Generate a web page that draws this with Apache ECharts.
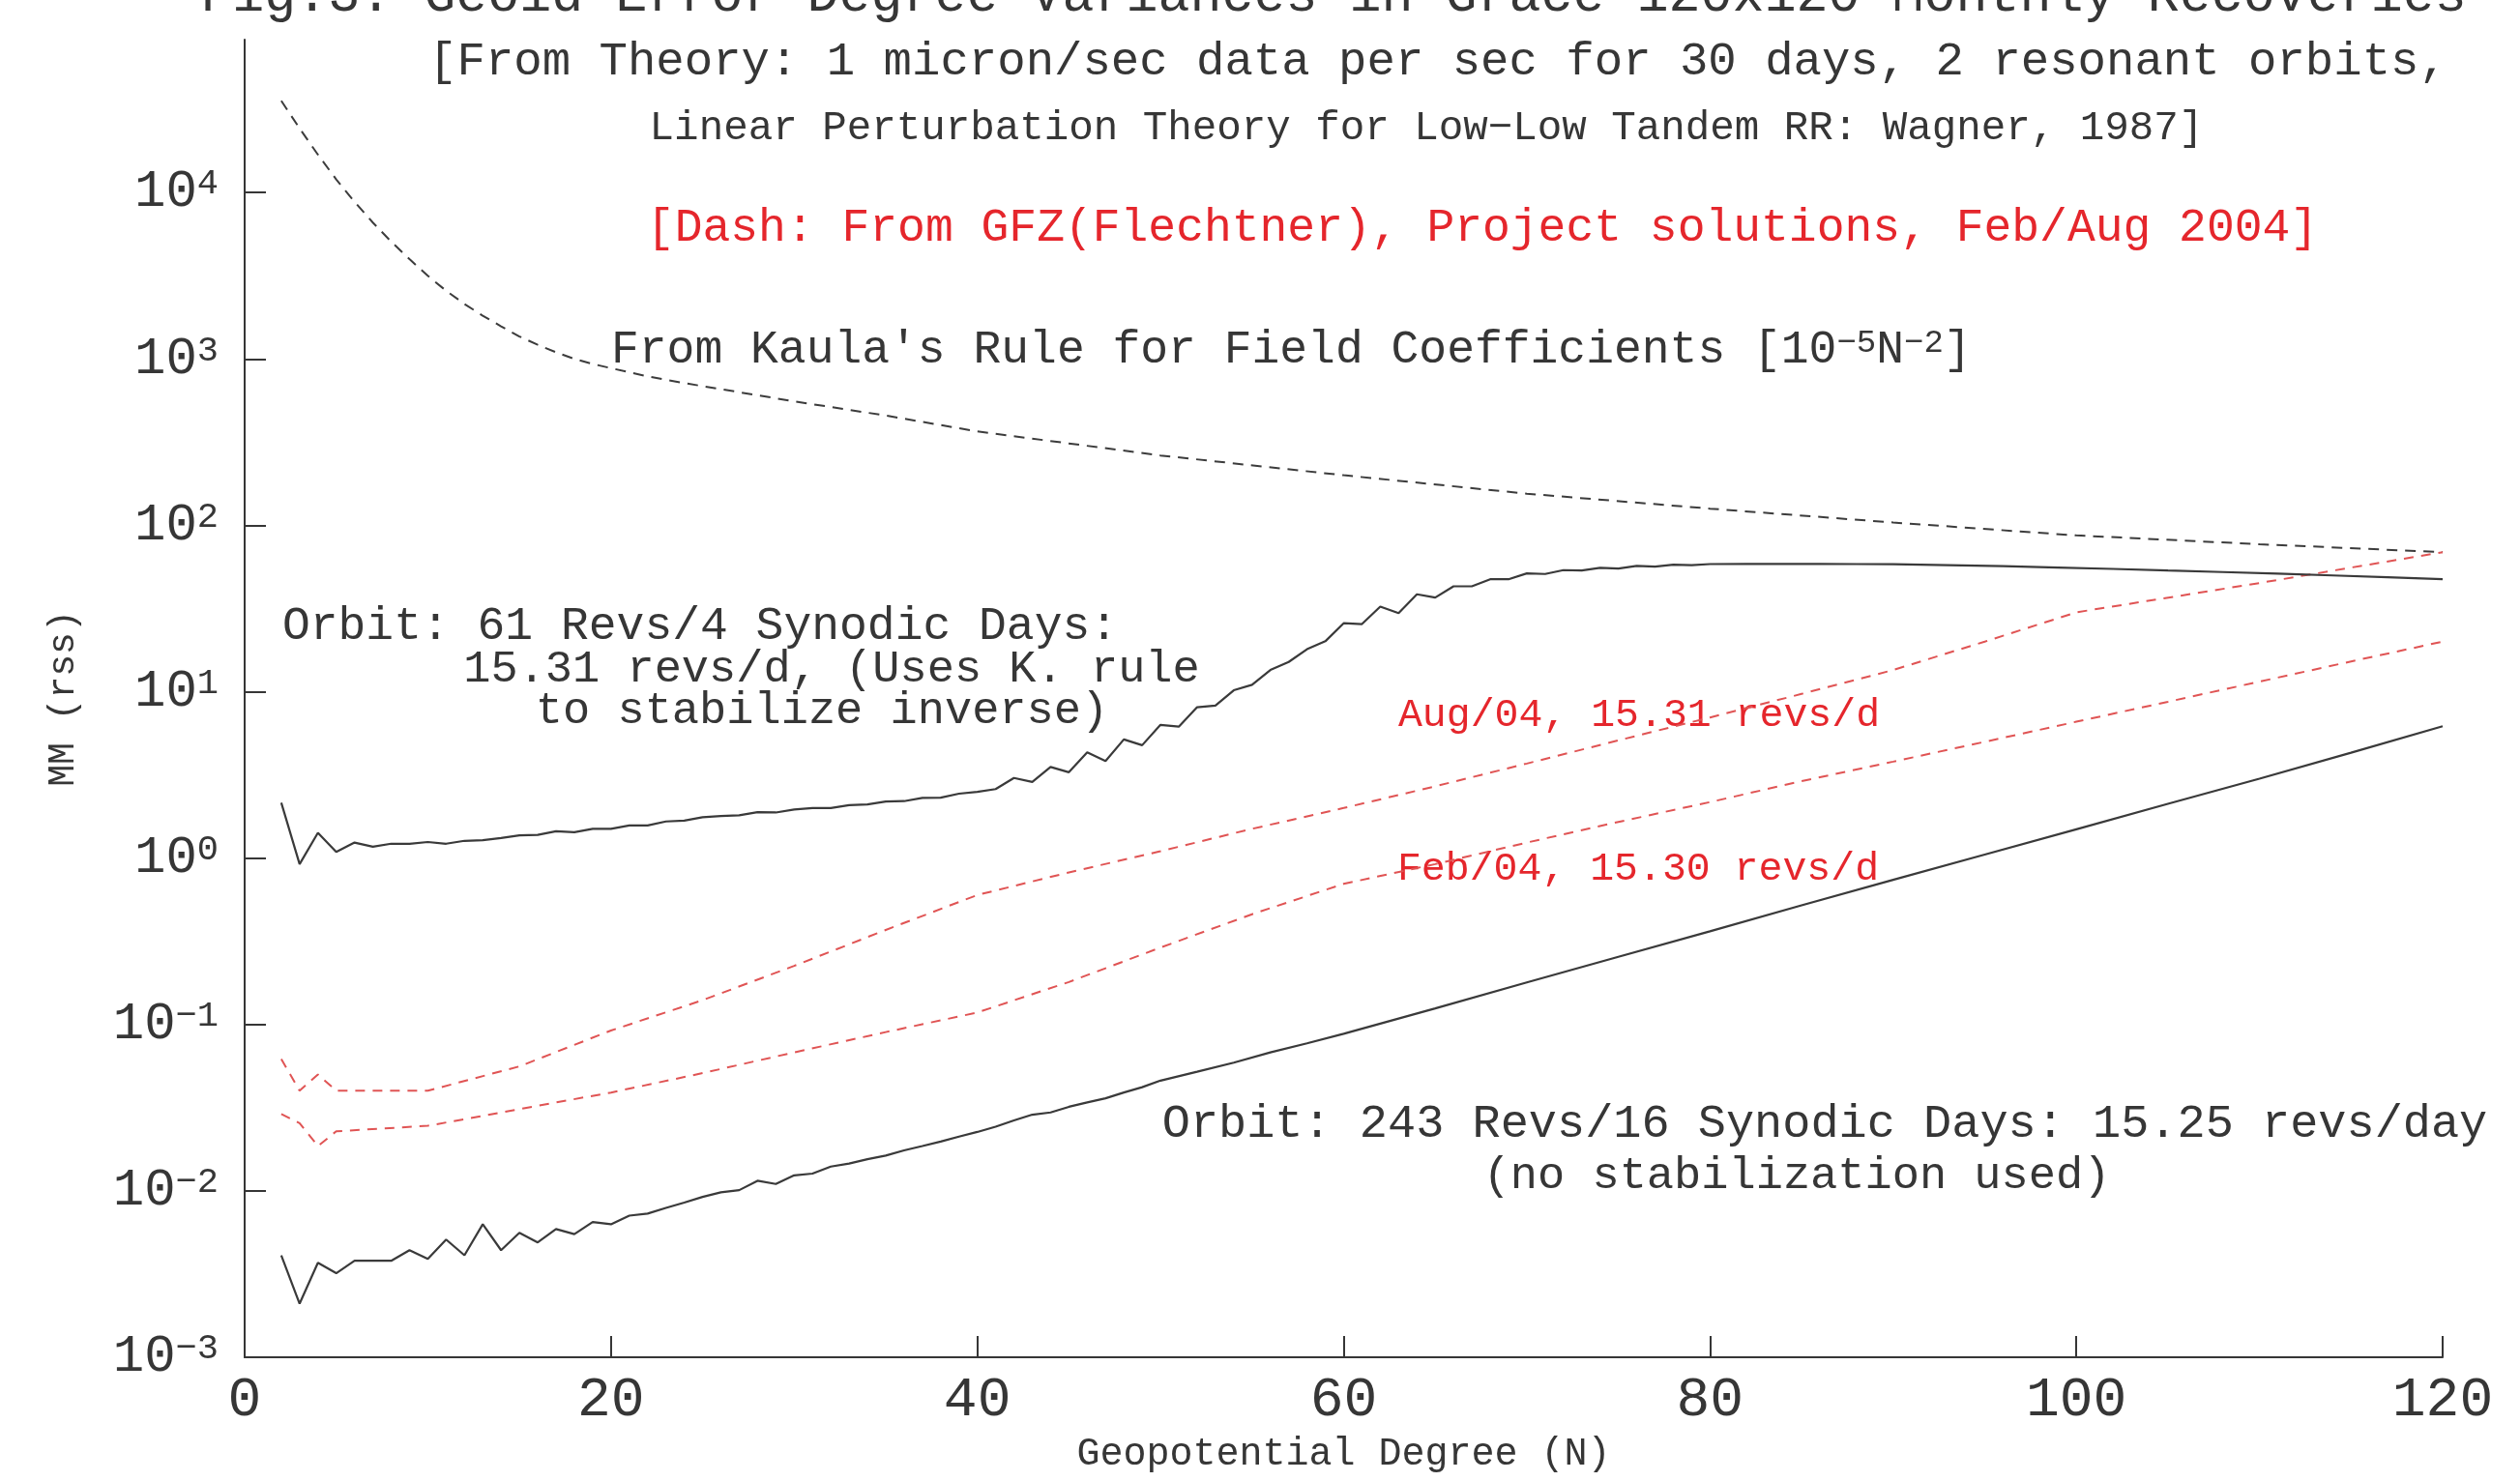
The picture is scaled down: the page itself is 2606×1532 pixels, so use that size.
<!DOCTYPE html>
<html>
<head>
<meta charset="utf-8">
<script src="https://cdn.jsdelivr.net/npm/echarts@6/dist/echarts.min.js"></script>
<style>
html,body{margin:0;padding:0;background:#fff;}
#c{width:2606px;height:1532px;}
</style>
</head>
<body>
<div id="c"></div>
<script>
// ---------------- data ----------------
const xTickInterval = 20;
const yTickValues = [0.001, 0.01, 0.1, 1, 10, 100, 1000, 10000];
const yTickExponents = ['−3', '−2', '−1', '0', '1', '2', '3', '4'];

// Kaula's rule (black dashed)
const kaulaDeg = [2,3,4,5,6,7,8,9,10,11,12,13,14,15,16,17,18,19,20,22,24,27,30,35,40,50,60,70,80,90,100,110,120];
const kaulaVal = [35600,24300,16900,12000,8800,6600,5070,3980,3160,2570,2140,1820,1570,1365,1216,1096,1000,933,880,785,716,631,556,457,367,263,200,155,126,104,87,77,69];

// Orbit 61 revs / 4 days (black solid, upper)
const orbit61Deg = [2,3,4,5,6,7,8,9,10,11,12,13,14,15,16,17,18,19,20,21,22,23,24,25,26,27,28,29,30,31,32,33,34,35,36,37,38,39,40,41,42,43,44,45,46,47,48,49,50,51,52,53,54,55,56,57,58,59,60,61,62,63,64,65,66,67,68,69,70,71,72,73,74,75,76,77,78,79,80,82,84,86,88,90,93,96,99,102,105,108,111,114,117,120];
const orbit61Val = [2.15,0.92,1.42,1.09,1.24,1.17,1.22,1.22,1.25,1.22,1.27,1.28,1.32,1.37,1.38,1.45,1.43,1.50,1.50,1.57,1.57,1.66,1.68,1.76,1.79,1.81,1.89,1.88,1.96,2.00,2.00,2.08,2.10,2.19,2.20,2.30,2.31,2.44,2.50,2.60,3.03,2.87,3.53,3.28,4.32,3.83,5.17,4.77,6.32,6.17,8.07,8.26,10.2,11.0,13.5,15.1,18.0,20.1,25.8,25.5,32.5,29.7,38.5,36.8,43.0,43.0,47.4,47.4,51.4,51.0,53.8,53.5,55.5,55.0,57.0,56.5,58.0,57.6,58.5,58.6,58.6,58.6,58.5,58.4,57.6,56.8,55.8,54.7,53.5,52.4,51.3,50.0,48.7,47.4];

// Orbit 243 revs / 16 days (black solid, lower)
const orbit243Deg = [2,3,4,5,6,7,8,9,10,11,12,13,14,15,16,17,18,19,20,21,22,23,24,25,26,27,28,29,30,31,32,33,34,35,36,37,38,39,40,41,42,43,44,45,46,47,48,49,50,52,54,56,58,60,65,70,75,80,85,90,95,100,105,110,115,120];
const orbit243Val = [0.0041,0.0021,0.0037,0.0032,0.0038,0.0038,0.0038,0.0044,0.0039,0.0051,0.0041,0.0063,0.0044,0.0056,0.0049,0.0059,0.0055,0.0065,0.0063,0.0071,0.0073,0.0079,0.0085,0.0092,0.0098,0.0101,0.0115,0.0110,0.0124,0.0127,0.0140,0.0146,0.0155,0.0163,0.0175,0.0186,0.0198,0.0212,0.0226,0.0243,0.0265,0.0287,0.0296,0.0320,0.0340,0.0360,0.0390,0.0420,0.0460,0.052,0.059,0.068,0.077,0.088,0.125,0.179,0.255,0.363,0.52,0.74,1.05,1.49,2.12,3.0,4.3,6.2];

// GFZ Aug/04 (red dashed, upper)
const augDeg = [2,3,4,5,10,15,20,25,30,35,40,45,50,55,60,65,70,75,80,85,90,95,100,110,120];
const augVal = [0.062,0.040,0.050,0.040,0.040,0.056,0.092,0.14,0.225,0.37,0.60,0.82,1.1,1.5,2.0,2.7,3.7,5.1,7.0,9.7,13.5,20,30,45,69];

// GFZ Feb/04 (red dashed, lower)
const febDeg = [2,3,4,5,10,15,20,25,30,35,40,45,50,55,60,65,70,75,80,85,90,95,100,105,110,115,120];
const febVal = [0.029,0.0255,0.0186,0.0228,0.0246,0.031,0.039,0.051,0.068,0.09,0.118,0.18,0.29,0.46,0.70,0.92,1.24,1.65,2.17,2.9,3.8,5.0,6.6,8.7,11.5,15.2,20];

// ---------------- chart ----------------
const zip = (a, b) => a.map((d, i) => [d, b[i]]);
const FONT = "'Liberation Mono', 'DejaVu Sans Mono', monospace";
const INK = '#363636';
const RED = '#e5262c';
const RED_LINE = '#e05454';

const chart = echarts.init(document.getElementById('c'), null, {renderer: 'canvas'});

function txt(text, x, y, size, color, align) {
  return {
    type: 'text', x: x, y: y, silent: true,
    style: {text: text, fontSize: size, fontFamily: FONT, fill: color,
            align: align || 'center', verticalAlign: 'middle'}
  };
}

const option = {
  backgroundColor: '#ffffff',
  animation: false,
  grid: {left: 253, right: 80, top: 41, bottom: 128, outerBoundsMode: 'none', containLabel: false},
  xAxis: {
    type: 'value', min: 0, max: 120, interval: xTickInterval,
    axisLine: {show: true, onZero: false, lineStyle: {color: INK, width: 2}},
    axisTick: {show: true, inside: true, length: 22, lineStyle: {color: INK, width: 2}},
    axisLabel: {show: true, margin: 16, fontSize: 58, fontFamily: FONT, color: INK},
    splitLine: {show: false},
    name: 'Geopotential Degree (N)', nameLocation: 'middle', nameGap: 80,
    nameTextStyle: {fontSize: 40, fontFamily: FONT, color: INK}
  },
  yAxis: {
    type: 'log', logBase: 10, min: 0.001, max: 83000,
    axisLine: {show: true, onZero: false, lineStyle: {color: INK, width: 2}},
    axisTick: {show: true, inside: true, length: 22, customValues: yTickValues, lineStyle: {color: INK, width: 2}},
    axisLabel: {
      show: true, margin: 27, customValues: yTickValues,
      formatter: function (v) {
        let idx = 0, best = 1e9;
        yTickValues.forEach((t, i) => { const d = Math.abs(Math.log10(t) - Math.log10(v)); if (d < best) { best = d; idx = i; } });
        return '{b|10}{s|' + yTickExponents[idx] + '}';
      },
      rich: {
        b: {fontSize: 54, lineHeight: 54, fontFamily: FONT, color: INK},
        s: {fontSize: 37, lineHeight: 36, verticalAlign: 'top', fontFamily: FONT, color: INK}
      }
    },
    splitLine: {show: false},
    minorTick: {show: false},
    name: 'MM (rss)', nameLocation: 'middle', nameGap: 168, nameRotate: 90,
    nameTextStyle: {fontSize: 38, fontFamily: FONT, color: INK}
  },
  series: [
    {name: 'Kaula', type: 'line', data: zip(kaulaDeg, kaulaVal), showSymbol: false, symbol: 'none',
     lineStyle: {color: '#3c3c3c', width: 2, type: [11, 8]}, z: 3},
    {name: 'Orbit61', type: 'line', data: zip(orbit61Deg, orbit61Val), showSymbol: false, symbol: 'none',
     lineStyle: {color: '#3a3a3a', width: 2.2, type: 'solid'}, z: 4},
    {name: 'Orbit243', type: 'line', data: zip(orbit243Deg, orbit243Val), showSymbol: false, symbol: 'none',
     lineStyle: {color: '#3a3a3a', width: 2.2, type: 'solid'}, z: 4},
    {name: 'Aug04', type: 'line', data: zip(augDeg, augVal), showSymbol: false, symbol: 'none',
     lineStyle: {color: RED_LINE, width: 2, type: [10, 8]}, z: 3},
    {name: 'Feb04', type: 'line', data: zip(febDeg, febVal), showSymbol: false, symbol: 'none',
     lineStyle: {color: RED_LINE, width: 2, type: [10, 8]}, z: 3}
  ],
  graphic: [
    txt('Fig.3: Geoid Error Degree Variances in Grace 120x120 Monthly Recoveries', 1379, -4, 55, INK),
    txt('[From Theory: 1 micron/sec data per sec for 30 days, 2 resonant orbits,', 1487, 64, 49, INK),
    txt('Linear Perturbation Theory for Low−Low Tandem RR: Wagner, 1987]', 1475, 133, 42.5, INK),
    txt('[Dash: From GFZ(Flechtner), Project solutions, Feb/Aug 2004]', 1533, 236, 48, RED),
    {
      type: 'text', x: 632, y: 362, silent: true,
      style: {
        text: "From Kaula's Rule for Field Coefficients [10{s|−5}N{s|−2}]",
        fontSize: 48, fontFamily: FONT, fill: INK, align: 'left', verticalAlign: 'middle',
        rich: {s: {fontSize: 34, lineHeight: 30, verticalAlign: 'top', fontFamily: FONT, fill: INK}}
      }
    },
    txt('Orbit: 61 Revs/4 Synodic Days:', 724, 648, 48, INK),
    txt('15.31 revs/d, (Uses K. rule', 860, 693, 47, INK),
    txt('to stabilize inverse)', 850, 736, 47, INK),
    txt('Aug/04, 15.31 revs/d', 1695, 740, 41.5, RED),
    txt('Feb/04, 15.30 revs/d', 1694, 899, 41.5, RED),
    txt('Orbit: 243 Revs/16 Synodic Days: 15.25 revs/day', 1887, 1163, 48.6, INK),
    txt('(no stabilization used)', 1858, 1217, 47, INK)
  ]
};
chart.setOption(option);
</script>
</body>
</html>
